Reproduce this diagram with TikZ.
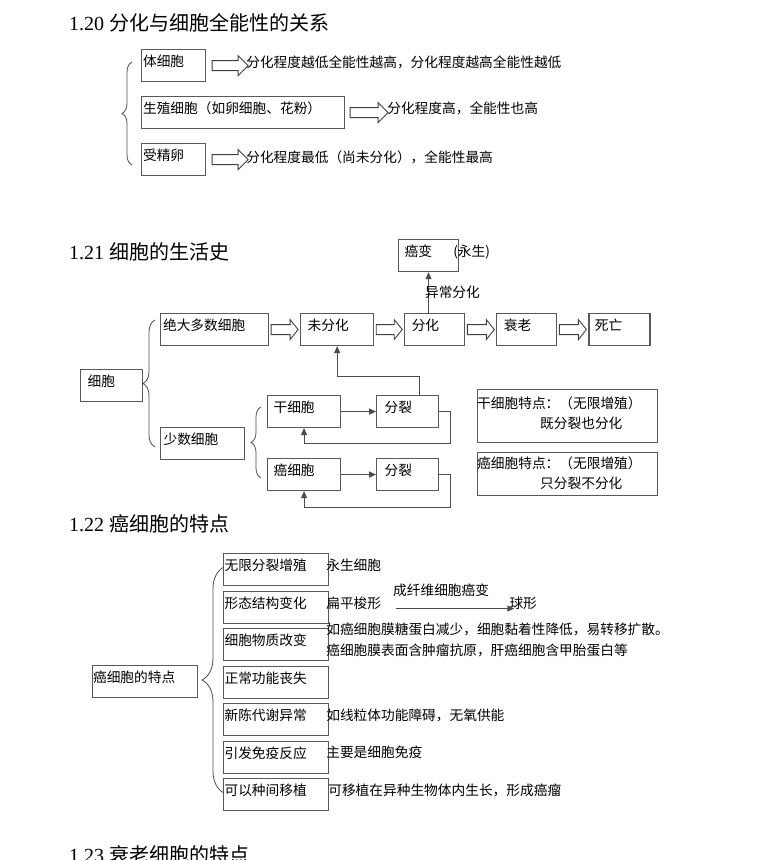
\documentclass[tikz,border=0pt]{standalone}
\usepackage{fontspec}
\setmainfont{Liberation Serif}
\newfontfamily\cjk{Noto Sans CJK SC}
\usetikzlibrary{arrows.meta,calc,positioning,decorations.pathreplacing}

\newcommand{\bodyfont}{\cjk\fontsize{13.7pt}{20pt}\selectfont}
\newcommand{\headfont}{\cjk\fontsize{20pt}{24pt}\selectfont}
% hollow block arrow, #1 = head length
\newcommand{\hollowarrow}[3][10]{%
  \draw[fatarrow] let \p1=(#2), \p2=(#3) in
    (\x1,\y1+5pt) -- (\x2-#1pt,\y1+5pt) -- (\x2-#1pt,\y1+10pt) -- (\x2,\y1)
    -- (\x2-#1pt,\y1-10pt) -- (\x2-#1pt,\y1-5pt) -- (\x1,\y1-5pt) -- cycle;}

\begin{document}
\begin{tikzpicture}[x=1pt,y=-1pt,font=\bodyfont,
    cellbox/.style={draw=black!65, line width=1.1pt, anchor=north west, inner xsep=1.5pt,
      inner ysep=1pt, text height=16pt, text depth=14pt, align=left},
    infobox/.style={draw=black!65, line width=1.1pt, anchor=north west, minimum width=180pt},
    note/.style={anchor=west},
    heading/.style={anchor=west, font=\headfont},
    fatarrow/.style={draw=black!75, line width=0.9pt, fill=white},
    link/.style={draw=black!70, line width=1pt},
    tip/.style={-{Triangle[length=7pt,width=6pt]}},
    curly/.style={draw=black!70, line width=0.8pt, decorate, decoration={brace,amplitude=#1}}]
  \tikzstyle{every node}+=[inner sep=0pt]
  \clip (0,0) rectangle (775,860);

  % 1.20
  \node[heading] (title20) at (69,23) {{\rmfamily 1.20 }分化与细胞全能性的关系};
  \node[cellbox, text width=61pt] (somatic) at (141,49) {体细胞};
  \node[cellbox, text width=200pt] (germ) at (141,96) {生殖细胞（如卵细胞、花粉）};
  \node[cellbox, text width=61pt] (zygote) at (141,143) {受精卵};
  \node[note] (somatictxt) at ([xshift=40pt,yshift=3pt]somatic.east) {分化程度越低全能性越高，分化程度越高全能性越低};
  \node[note] (germtxt) at ([xshift=42pt,yshift=4pt]germ.east) {分化程度高，全能性也高};
  \node[note] (zygotetxt) at ([xshift=40pt,yshift=2pt]zygote.east) {分化程度最低（尚未分化），全能性最高};
  \hollowarrow{[xshift=6pt]somatic.east}{[xshift=2pt]somatictxt.west}
  \hollowarrow{[xshift=5pt]germ.east}{[xshift=1pt]germtxt.west}
  \hollowarrow{[xshift=6pt]zygote.east}{[xshift=2pt]zygotetxt.west}
  \draw[curly=10pt] (132,165) -- (132,62);

  % 1.21
  \node[heading] (title21) at (69,252) {{\rmfamily 1.21 }细胞的生活史};
  \node[cellbox, text width=48pt, inner xsep=6pt] (cancerous) at (398,239) {癌变};
  \node[note] (immortal) at ([xshift=-6pt,yshift=3.5pt]cancerous.east) {(永生)};
  \node[cellbox, text width=103pt, inner xsep=2.5pt] (majority) at (160,313) {绝大多数细胞};
  \node[cellbox, text width=59pt, inner xsep=7pt, right=31pt of majority] (undiff) {未分化};
  \node[cellbox, text width=46pt, inner xsep=7pt, right=30pt of undiff] (diff) {分化};
  \node[cellbox, text width=46pt, inner xsep=7pt, right=31pt of diff] (aging) {衰老};
  \node[cellbox, text width=49pt, inner xsep=6pt, right=31pt of aging] (death) {死亡};
  \hollowarrow[8]{[xshift=2pt]majority.east}{[xshift=-2pt]undiff.west}
  \hollowarrow[8]{[xshift=2pt]undiff.east}{[xshift=-2pt]diff.west}
  \hollowarrow[8]{[xshift=2pt]diff.east}{[xshift=-2pt]aging.west}
  \hollowarrow[8]{[xshift=2pt]aging.east}{[xshift=-2pt]death.west}
  \draw[link,tip] (cancerous.south |- diff.north) -- node[note, xshift=-4pt] (abnormal) {异常分化} (cancerous.south);

  \node[cellbox, text width=48pt, inner xsep=7pt] (cells) at (80,369) {细胞};
  \node[cellbox, text width=78pt, inner xsep=3pt] (fewcells) at (160,427) {少数细胞};
  \node[cellbox, text width=61pt, inner xsep=6pt] (stem) at (267,395) {干细胞};
  \node[cellbox, text width=46pt, inner xsep=8pt, right=35pt of stem] (divide1) {分裂};
  \node[cellbox, text width=61pt, inner xsep=6pt] (tumour) at (267,458) {癌细胞};
  \node[cellbox, text width=46pt, inner xsep=8pt, right=35pt of tumour] (divide2) {分裂};
  \draw[link,tip] (stem.east) -- (divide1.west);
  \draw[link,tip] (divide1.east) -- ++(11,0) -- ++(0,32) -| (stem.south);
  \draw[link,tip] ([xshift=12pt]divide1.north) -- ++(0,-19) -| (undiff.south);
  \draw[link,tip] (tumour.east) -- (divide2.west);
  \draw[link,tip] (divide2.east) -- ++(11,0) -- ++(0,33) -| (tumour.south);
  \draw[curly=12pt] (155,447) -- (155,320);
  \draw[curly=10pt] (261,478) -- (261,407);

  \node[infobox, minimum height=53pt] (steminfo) at (477,389) {};
  \node[note] (steminfo1) at ([yshift=-14pt]steminfo.north west) {干细胞特点：（无限增殖）};
  \node[note] (steminfo2) at ([xshift=63pt,yshift=-34pt]steminfo.north west) {既分裂也分化};
  \node[infobox, minimum height=43pt] (tumourinfo) at (477,452) {};
  \node[note] (tumourinfo1) at ([yshift=-11pt]tumourinfo.north west) {癌细胞特点：（无限增殖）};
  \node[note] (tumourinfo2) at ([xshift=63pt,yshift=-31pt]tumourinfo.north west) {只分裂不分化};

  % 1.22
  \node[heading] (title22) at (69,524) {{\rmfamily 1.22 }癌细胞的特点};
  \node[cellbox, text width=104pt, inner xsep=0.5pt] (features) at (92,665) {癌细胞的特点};
  \foreach \i/\txt in {1/无限分裂增殖,2/形态结构变化,3/细胞物质改变,4/正常功能丧失,
      5/新陈代谢异常,6/引发免疫反应,7/可以种间移植}
    \node[cellbox, text width=103pt, inner xsep=1pt] (feat\i) at (223,{553+(\i-1)*37.5}) {\txt};
  \draw[curly=22pt] (224,793) -- (224,567);
  \node[note] (feattxt1) at ([xshift=-3pt,yshift=4pt]feat1.east) {永生细胞};
  \node[note] (feattxt2) at ([xshift=-3pt,yshift=3.5pt]feat2.east) {扁平梭形};
  \node[note, right=128pt of feattxt2] (sphere) {球形};
  \draw[link,tip] ([xshift=15pt,yshift=-5pt]feattxt2.east) -- node[pos=0.38, above=11pt] (fibro) {成纤维细胞癌变} ([xshift=5pt,yshift=-5pt]sphere.west);
  \node[note] (feattxt3a) at ([xshift=-3pt,yshift=15pt]feat3.east) {如癌细胞膜糖蛋白减少，细胞黏着性降低，易转移扩散。};
  \node[note] (feattxt3b) at ([xshift=-3pt,yshift=-6pt]feat3.east) {癌细胞膜表面含肿瘤抗原，肝癌细胞含甲胎蛋白等};
  \node[note] (feattxt5) at ([xshift=-3pt,yshift=4pt]feat5.east) {如线粒体功能障碍，无氧供能};
  \node[note] (feattxt6) at ([xshift=-3pt,yshift=4.5pt]feat6.east) {主要是细胞免疫};
  \node[note] (feattxt7) at ([xshift=-1pt,yshift=4pt]feat7.east) {可移植在异种生物体内生长，形成癌瘤};

  % 1.23
  \node[heading] (title23) at (69,855) {{\rmfamily 1.23 }衰老细胞的特点};
\end{tikzpicture}
\end{document}
